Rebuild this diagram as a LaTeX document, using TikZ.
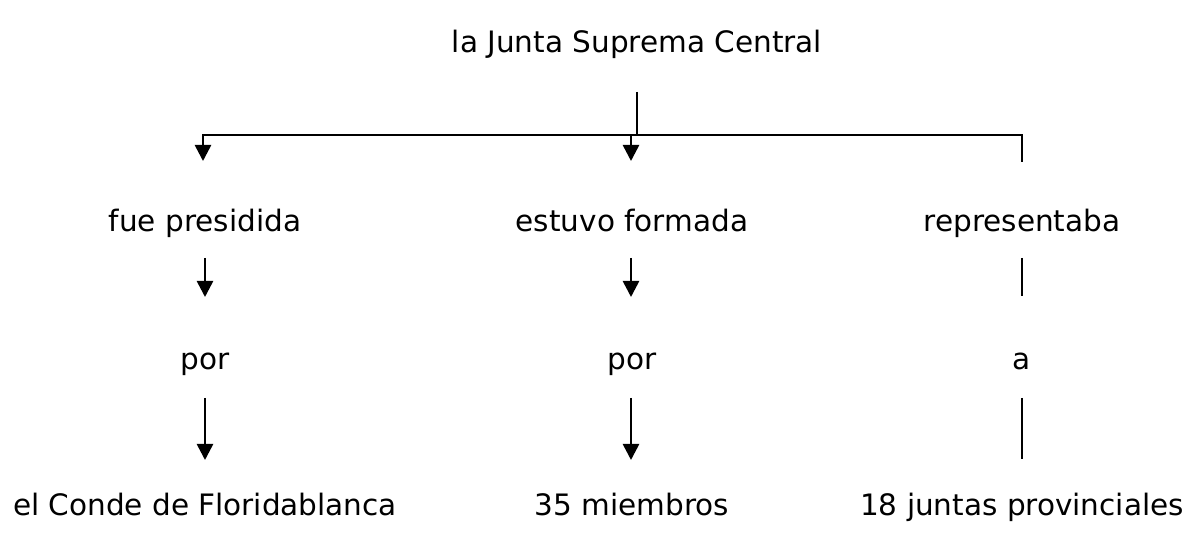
\documentclass[tikz,border=0pt]{standalone}
\usepackage{fontspec}
\setmainfont{DejaVu Sans}
\usetikzlibrary{arrows.meta}
\begin{document}
\begin{tikzpicture}[x=1pt,y=-1pt,
  lbl/.style={font=\fontsize{29.5}{34}\selectfont, inner sep=0pt, anchor=base},
  conn/.style={line width=2.6pt},
  arr/.style={conn, -{Triangle[width=16pt,length=16pt]}}]
\useasboundingbox (0,0) rectangle (1192,534);
\node[lbl] (top) at (637,53) {la Junta Suprema Central};
\node[lbl] (fp) at (205,232) {fue presidida};
\node[lbl] (ef) at (632,232) {estuvo formada};
\node[lbl] (rep) at (1022,232) {representaba};
\node[lbl] (p1) at (205,370) {por};
\node[lbl] (p2) at (632,370) {por};
\node[lbl] (a) at (1022,370) {a};
\node[lbl] (c1) at (205,515) {el Conde de Floridablanca};
\node[lbl] (c2) at (632,515) {35 miembros};
\node[lbl] (c3) at (1022,515) {18 juntas provinciales};
% top connector
\coordinate (s0) at (637,92);
\coordinate (s1) at (637,135);
\coordinate (hl) at (203,135);
\coordinate (hr) at (1022,135);
\coordinate (hm) at (631,135);
\draw[conn] (s0) -- (s1);
\draw[conn,line cap=rect] (hl) -- (hr);
\draw[arr] (hl) -- (203,161);
\draw[arr] (hm) -- (631,161);
\draw[conn] (hr) -- (1022,162);
% middle arrows
\coordinate (a1) at (205,258); \coordinate (b1) at (205,297);
\coordinate (a2) at (631,258); \coordinate (b2) at (631,297);
\coordinate (a3) at (1022,258); \coordinate (b3) at (1022,296);
\draw[arr] (a1) -- (b1);
\draw[arr] (a2) -- (b2);
\draw[conn] (a3) -- (b3);
\coordinate (d1) at (205,398); \coordinate (e1) at (205,460);
\coordinate (d2) at (631,398); \coordinate (e2) at (631,460);
\coordinate (d3) at (1022,398); \coordinate (e3) at (1022,459);
\draw[arr] (d1) -- (e1);
\draw[arr] (d2) -- (e2);
\draw[conn] (d3) -- (e3);
\end{tikzpicture}
\end{document}
